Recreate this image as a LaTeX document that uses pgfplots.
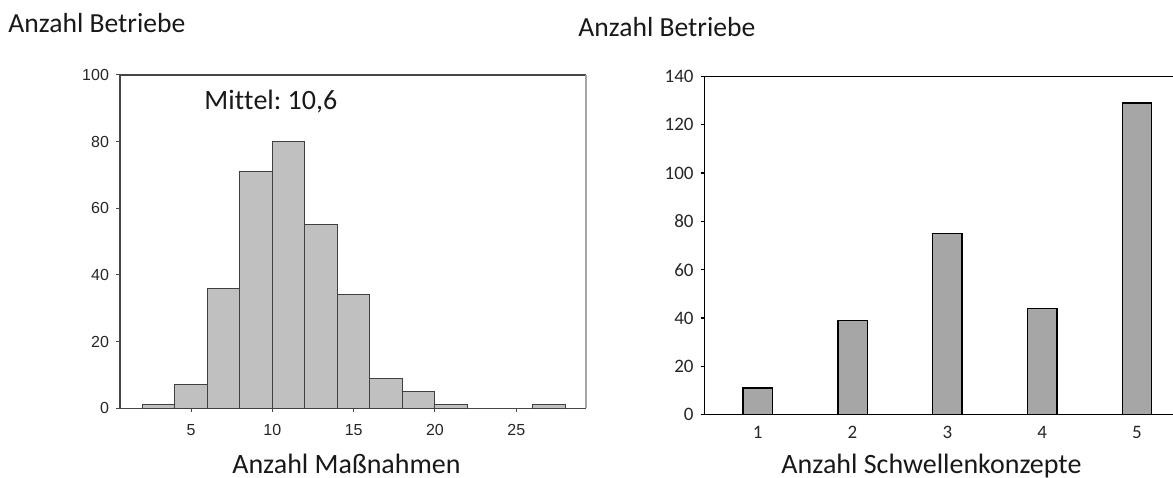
\documentclass[border=0pt]{standalone}
\usepackage{pgfplots}
\pgfplotsset{compat=1.18}
\usepackage{fontspec}
\setmainfont{Carlito}[RawFeature={-liga;-clig;-calt}]
\newfontfamily\arialfont{Liberation Sans}
\frenchspacing
\definecolor{barL}{RGB}{192,192,192}
\definecolor{edgeL}{RGB}{64,64,64}
\definecolor{barR}{RGB}{166,166,166}
\definecolor{axL}{RGB}{70,70,70}
\begin{document}
\begin{tikzpicture}
\useasboundingbox (0,0) rectangle (586.5pt,238.5pt);
% left histogram
\begin{axis}[
  at={(60pt,34.35pt)}, anchor=origin,
  scale only axis, width=232.85pt, height=166.65pt,
  xmin=0.63, xmax=29.27, ymin=0, ymax=100,
  xtick={5,10,15,20,25}, ytick={0,20,40,60,80,100},
  xtick pos=left, ytick pos=left, tick align=outside,
  major tick length=2pt,
  axis line style={draw=axL, line width=0.6pt},
  tick style={draw=axL, line width=0.5pt},
  /pgf/number format/assume math mode=true,
  ticklabel style={font=\arialfont\fontsize{8}{9}\selectfont, text=black!85},
  xticklabel style={text height=6pt, yshift=-2pt},
  clip=false,
]
\addplot[ybar, bar width=2, bar shift=0pt, fill=barL, draw=edgeL, line width=0.5pt]
  coordinates {(3,1) (5,7) (7,36) (9,71) (11,80) (13,55) (15,34) (17,9) (19,5) (21,1) (27,1)};
\draw[draw=black!35, line width=1.2pt] (rel axis cs:1,0) -- (rel axis cs:1,1);
\end{axis}
% right bar chart
\begin{axis}[
  at={(352.3pt,31.15pt)}, anchor=origin,
  scale only axis, width=234.2pt, height=169.2pt,
  xmin=0.44, xmax=5.38, ymin=0, ymax=140,
  xtick={1,2,3,4,5}, ytick={0,20,40,60,80,100,120,140},
  axis lines*=left, tick align=outside,
  major tick length=2pt,
  xtick style={draw=none},
  axis line style={draw=black, line width=0.7pt},
  tick style={draw=black, line width=0.6pt},
  /pgf/number format/assume math mode=true,
  ticklabel style={font=\fontsize{9.5}{11}\selectfont, text=black!85},
  xticklabel style={text height=6.5pt},
  clip=false,
]
\addplot[ybar, bar width=0.31, bar shift=0pt, fill=barR, draw=black, line width=0.7pt]
  coordinates {(1,11) (2,39) (3,75) (4,44) (5,129)};
\draw[black, line width=0.7pt] (rel axis cs:0,1) -- (rel axis cs:1,1);
\end{axis}
% texts
\node[anchor=base west, inner sep=0pt, font=\fontsize{13.8}{16}\selectfont, text=black!90] at (4pt,222pt) {Anzahl Betriebe};
\node[anchor=base west, inner sep=0pt, font=\fontsize{13.8}{16}\selectfont, text=black!90] at (289pt,220.15pt) {Anzahl Betriebe};
\node[anchor=base west, inner sep=0pt, font=\fontsize{14}{16}\selectfont, text=black!90] at (102pt,183.5pt) {Mit\kern0ptt\kern0ptel: 10,6};
\node[anchor=base, inner sep=0pt, font=\fontsize{14}{16}\selectfont, text=black!90] at (173.25pt,2pt) {Anzahl Maßnahmen};
\node[anchor=base, inner sep=0pt, font=\fontsize{14}{16}\selectfont, text=black!90] at (465.75pt,2pt) {Anzahl Schwellenkonzepte};
\end{tikzpicture}
\end{document}
